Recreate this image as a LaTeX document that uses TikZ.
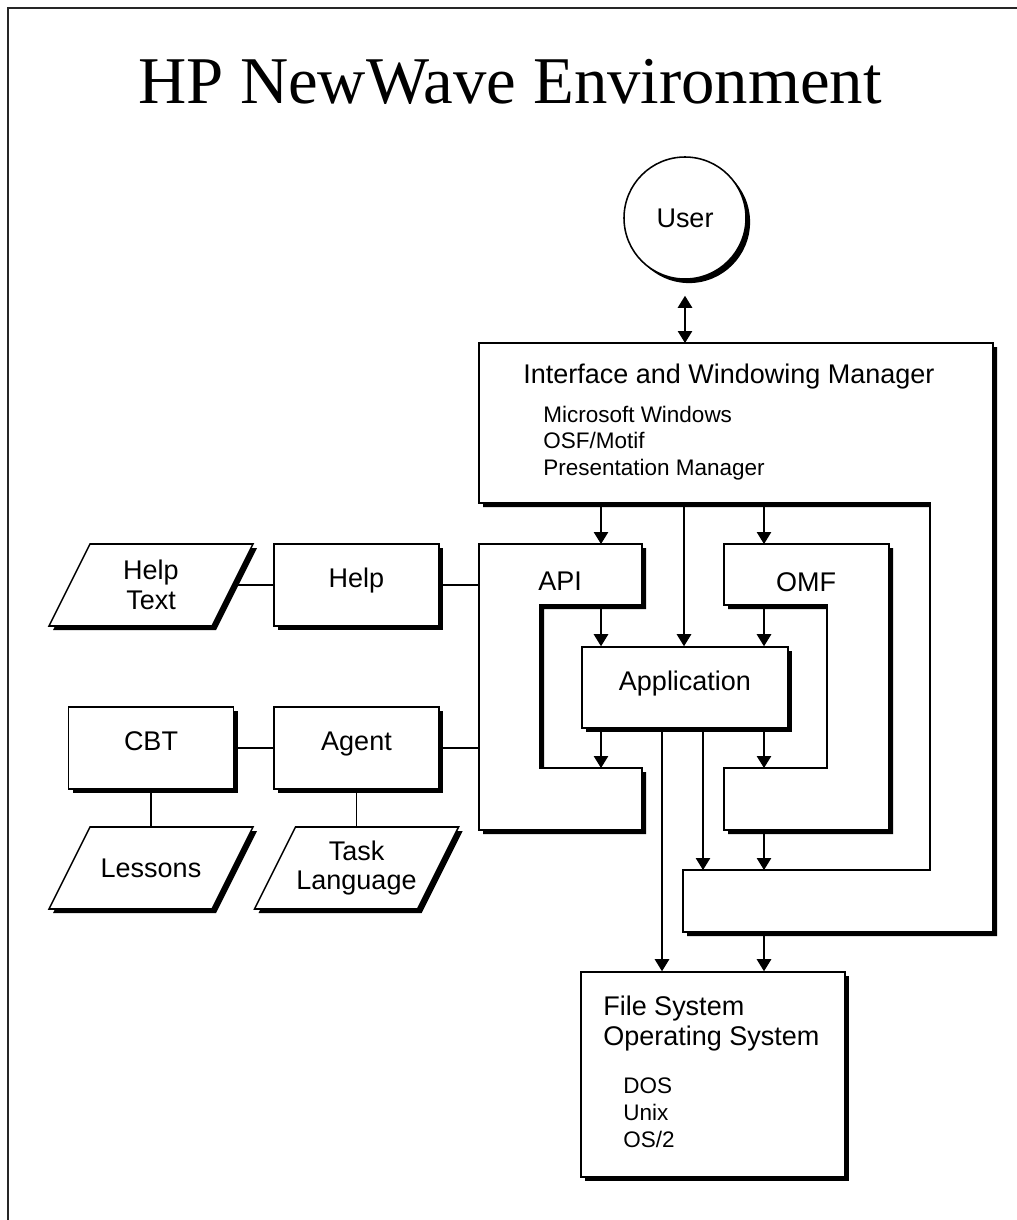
\documentclass[tikz,border=0pt]{standalone}
\usepackage{fontspec}
\setmainfont{Liberation Sans}
\newfontfamily\headfont{Liberation Serif}
\usetikzlibrary{arrows.meta,positioning,calc,shadows}

\newcommand{\headsize}{\fontsize{47.5}{52}\selectfont}
\newcommand{\labelsize}{\fontsize{19.2}{21.3}\selectfont}
\newcommand{\listsize}{\fontsize{16}{18.9}\selectfont}

\begin{document}
\begin{tikzpicture}[
		x=0.25mm,
		y=-0.25mm,
		>={Triangle[length=3mm,width=3.6mm]},
		shade box/.style={drop shadow={shadow xshift=2.9pt,shadow yshift=-2.9pt,opacity=1,fill=black}},
		panel/.style={draw,line width=1.1pt,fill=white,shade box},
		box/.style={panel,rectangle,inner sep=0pt,minimum width=41.25mm,minimum height=20.5mm,font=\labelsize,text height=0.72em,text depth=0.36em},
		paratext/.style={inner sep=0pt,minimum width=40.75mm,minimum height=20.5mm,font=\labelsize,align=center},
		boxlabel/.style={font=\labelsize,inner sep=0pt},
		listitem/.style={font=\listsize,inner sep=0pt,anchor=base west},
		flow/.style={->,line width=1pt},
		link/.style={line width=1pt},
		pageframe/.style={line width=1.2pt,black!85}
	]
	
	\useasboundingbox (0,0) rectangle (1017,1220);
	
	% Frame (only top and left edges)
	\draw[pageframe] (8,1220) -- (8,8) -- (1017,8);
	
	% Title
	\node[font=\headfont\headsize,anchor=base,inner sep=0pt] (title) at (510,103) {HP NewWave Environment};
	
	% User
	\node[panel,circle,minimum size=30.5mm,inner sep=0pt,font=\labelsize] (user) at (685,218) {User};
	
	% Interface and windowing manager, wraps round to the bottom
	\coordinate (iwm-nw) at (479,343);
	\coordinate (iwm-sw) at (479,503);
	\coordinate (iwm-foot) at (683,870);
	\coordinate (iwm-se) at (993,932);
	\draw[panel] (iwm-nw) -- (993,343) -- (iwm-se) -- (683,932) -- (iwm-foot) -- (930,870) -- (930,503) -- (iwm-sw) -- cycle;
	\node[boxlabel,anchor=base west] (iwm) at (523,383) {Interface and Windowing Manager};
	\foreach \os [count=\i] in {Microsoft Windows,OSF/Motif,Presentation Manager}
		\node[listitem] (iwm-os\i) at (543,395.5+26.5*\i) {\os};
	
	% API
	\coordinate (api-nw) at (479,544);
	\coordinate (api-in) at (540,605);
	\coordinate (api-low) at (540,768);
	\draw[panel] (api-nw) -- (642,544) -- (642,605) -- (api-in) -- (api-low) -- (642,768) -- (642,830) -- (479,830) -- cycle;
	\node[boxlabel] (api) at (560,581) {API};
	
	% OMF
	\coordinate (omf-nw) at (724,544);
	\coordinate (omf-in) at (827,605);
	\coordinate (omf-low) at (827,768);
	\coordinate (omf-sw) at (724,830);
	\draw[panel] (omf-nw) -- (889,544) -- (889,830) -- (omf-sw) -- (724,768) -- (omf-low) -- (omf-in) -- (724,605) -- cycle;
	\node[boxlabel] (omf) at (806,582) {OMF};
	
	% Application and file system
	\node[box,minimum width=51.5mm,minimum height=20.25mm] (app) at (685,687.5) {Application};
	\node[box,minimum width=66mm,minimum height=51.25mm] (fs) at (713,1074.5) {};
	\node[boxlabel,anchor=base west] (fs-l1) at (603,1015) {File System};
	\node[boxlabel,anchor=base west] (fs-l2) at (603,1045) {Operating System};
	\foreach \os [count=\i] in {DOS,Unix,OS/2}
		\node[listitem] (fs-os\i) at (623,1066+27*\i) {\os};
	
	% Left-hand boxes
	\node[box] (help) at (356.5,585) {Help};
	\node[box] (agent) at (356.5,748) {Agent};
	\node[box] (cbt) at (151,748) {CBT};
	
	% Data stores (parallelograms)
	\draw[panel] (151,585) ++(-102,41) -- ++(163,0) -- ++(41,-82) -- ++(-163,0) -- cycle;
	\node[paratext] (helptext) at (151,585) {Help\\Text};
	\draw[panel] (151,868) ++(-102,41) -- ++(163,0) -- ++(41,-82) -- ++(-163,0) -- cycle;
	\node[paratext] (lessons) at (151,868) {Lessons};
	\draw[panel] (356.5,868) ++(-102,41) -- ++(163,0) -- ++(41,-82) -- ++(-163,0) -- cycle;
	\node[paratext] (tasklang) at (356.5,868) {Task\\Language};
	
	% Columns for the arrows
	\coordinate (colA) at (601,0);
	\coordinate (colB) at (684,0);
	\coordinate (colC) at (764,0);
	\coordinate (colD) at (662,0);
	\coordinate (colE) at (703,0);
	
	% Arrows
	\draw[<->,line width=1pt] ($(user.south)+(0,16)$) -- (iwm-nw -| user);
	\draw[flow] (iwm-sw -| colA) -- (api-nw -| colA);
	\draw[flow] (iwm-sw -| colB) -- (app.north -| colB);
	\draw[flow] (iwm-sw -| colC) -- (omf-nw -| colC);
	\draw[flow] (api-in -| colA) -- (app.north -| colA);
	\draw[flow] (omf-in -| colC) -- (app.north -| colC);
	\draw[flow] (app.south -| colA) -- (api-low -| colA);
	\draw[flow] (app.south -| colC) -- (omf-low -| colC);
	\draw[flow] (app.south -| colD) -- (fs.north -| colD);
	\draw[flow] (app.south -| colE) -- (iwm-foot -| colE);
	\draw[flow] (omf-sw -| colC) -- (iwm-foot -| colC);
	\draw[flow] (iwm-se -| colC) -- (fs.north -| colC);
	
	% Links
	\draw[link] (helptext) -- (help);
	\draw[link] (help) -- (help -| api-nw);
	\draw[link] (cbt) -- (agent);
	\draw[link] (agent) -- (agent -| api-nw);
	\draw[link] (cbt) -- (lessons);
	\draw[link] (agent) -- (tasklang);
	
\end{tikzpicture}
\end{document}
